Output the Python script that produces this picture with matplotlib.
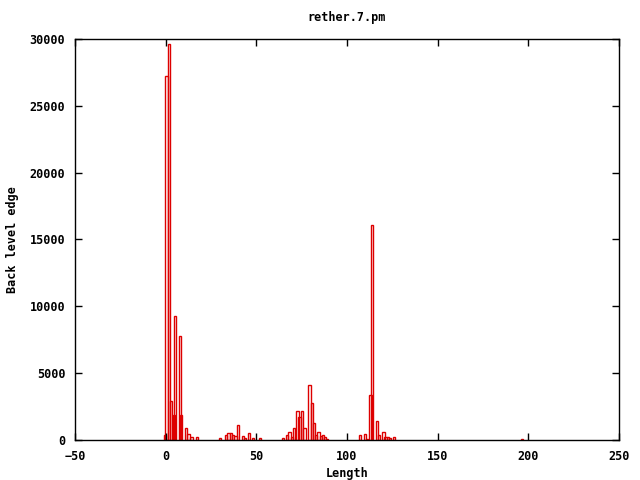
#!/usr/bin/env python3

# plot.py
# gnuplot-style histogram of back level edges against length

import matplotlib
matplotlib.use("Agg")
import matplotlib.pyplot as plt


# data

lengths = [-0.5, 0.4, 1.7, 3.0, 4.6, 5.1, 8.0, 8.5, 11.2, 12.6, 14.2, 17.2,
           30.0, 33.3, 34.6, 35.9, 37.2, 38.5, 39.9, 42.5, 43.7, 46.0, 48.1, 52.0,
           64.6, 67.0, 68.3, 69.5, 70.8, 72.7, 73.9, 75.3, 76.5, 79.3, 80.6, 81.8,
           83.0, 84.3, 85.5, 86.8, 87.9, 89.0,
           107.2, 110.0, 111.2, 112.9, 113.9, 116.5, 117.6, 120.2, 121.2, 122.5,
           123.7, 125.9, 196.5]

counts = [350, 27200, 29600, 2950, 1900, 9300, 7750, 1850, 900, 450, 250, 200,
          120, 400, 500, 500, 400, 300, 1100, 300, 120, 550, 150, 175,
          150, 400, 600, 250, 900, 2200, 1700, 2200, 900, 4100, 2800, 1300,
          350, 600, 300, 400, 250, 100,
          375, 450, 100, 3400, 16100, 1425, 400, 600, 250, 200,
          150, 250, 100]

box_width = 1.3

x_ticks = [-50, 0, 50, 100, 150, 200, 250]
y_ticks = [0, 5000, 10000, 15000, 20000, 25000, 30000]


font = {'family': 'DejaVu Sans Mono', 'weight': 'bold', 'size': 8.5}
plt.rcParams['font.family'] = 'DejaVu Sans Mono'
plt.rcParams['font.weight'] = 'bold'
plt.rcParams['font.size'] = 8.5

fig = plt.figure(figsize=(6.4, 4.8), dpi=100)
ax = fig.add_axes([75 / 640, 40 / 480, 544 / 640, 401 / 480])

ax.bar(lengths, counts, width=box_width, fill=False, edgecolor='#dd0000', linewidth=1.0)

ax.set_xlim(-50, 250)
ax.set_ylim(0, 30000)
ax.set_xticks(x_ticks)
ax.set_yticks(y_ticks)
ax.tick_params(direction='in', top=True, right=True, length=5, width=1,
               labelsize=8.5, colors='black')
ax.tick_params(axis='x', pad=7)
ax.tick_params(axis='y', pad=7)
for s in ax.spines.values():
    s.set_linewidth(1)

ax.set_title("rether.7.pm", fontdict=font, pad=13)
ax.set_xlabel("Length", fontdict=font, labelpad=3)
ax.set_ylabel("Back level edge", fontdict=font, labelpad=8)

plt.savefig("out.png", dpi=100)
